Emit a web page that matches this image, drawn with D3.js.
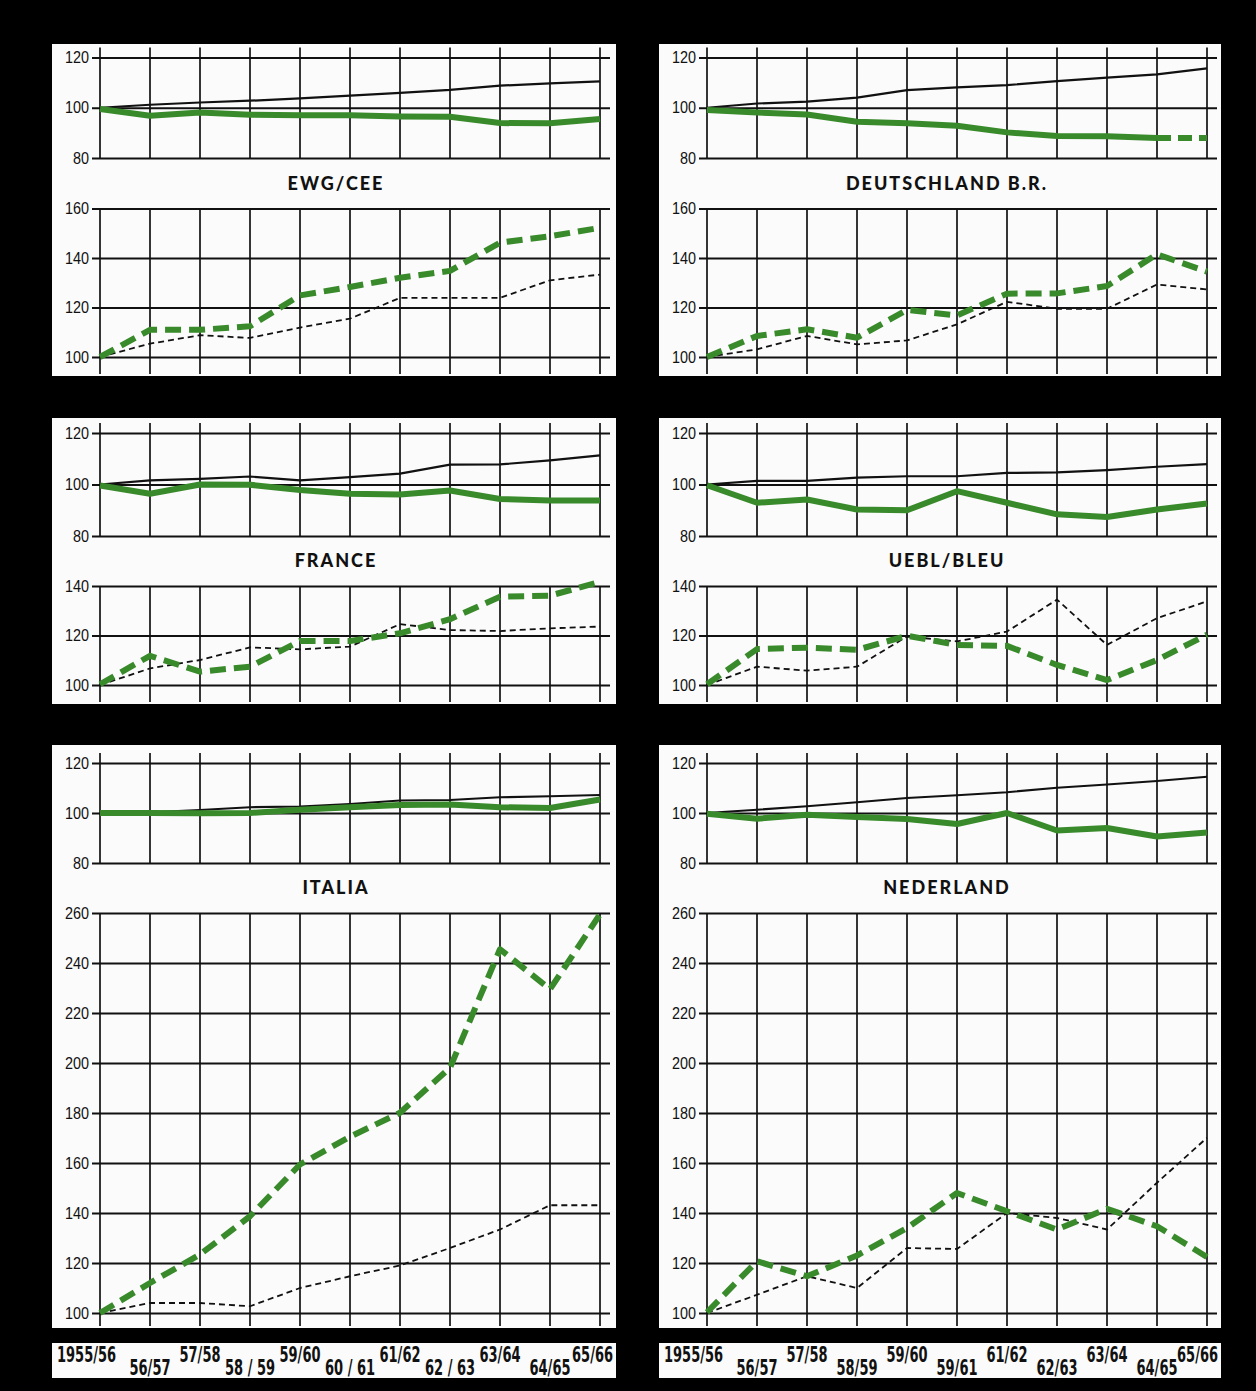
<!DOCTYPE html>
<html>
<head>
<meta charset="utf-8">
<script src="https://cdn.jsdelivr.net/npm/d3@7/dist/d3.min.js"></script>
<style>
  body { margin: 0; background: #000; }
  svg { display: block; }
  .tick text { font-family: "Liberation Sans", "DejaVu Sans", sans-serif; font-size: 16px; fill: #111; }
</style>
</head>
<body>
<script>
// seasons along the bottom
var yearsLeft = ["1955/56", "56/57", "57/58", "58 / 59", "59/60", "60 / 61", "61/62", "62 / 63", "63/64", "64/65", "65/66"];
var yearsRight = ["1955/56", "56/57", "57/58", "58/59", "59/60", "59/61", "61/62", "62/63", "63/64", "64/65", "65/66"];

var topTicks = [80, 100, 120];

// EWG / CEE
var ewgTopBlack = [100, 101.2, 102.1, 102.8, 103.7, 104.8, 105.9, 107.1, 108.8, 109.7, 110.5];
var ewgTopGreen = [99.5, 96.8, 98.1, 97.2, 97, 97, 96.5, 96.4, 93.9, 93.8, 95.5];
var ewgBotGreen = [100, 111, 111, 112.4, 124.9, 128.3, 132, 134.8, 146.2, 148.8, 152.2];
var ewgBotBlack = [100, 105.4, 108.8, 107.7, 111.9, 115.5, 123.9, 123.9, 123.9, 131, 133.3];

// Deutschland B.R.
var deTopBlack = [100, 101.7, 102.4, 104, 107, 108.1, 109, 110.6, 112, 113.3, 115.7];
var deTopGreen = [99.1, 98.1, 97.3, 94.4, 93.8, 92.8, 90.2, 88.8, 88.7, 88, 88];
var deBotGreen = [100, 108.5, 111.2, 107.8, 119, 116.8, 125.6, 125.7, 128.7, 141.5, 134.5];
var deBotBlack = [100, 103.1, 108.5, 105.1, 106.7, 113.2, 122.3, 119.5, 119.5, 129.3, 127.3];

// France
var frTopBlack = [100, 101.6, 102.2, 103.1, 101.6, 102.9, 104.2, 107.7, 107.8, 109.4, 111.3];
var frTopGreen = [99.6, 96.4, 100, 99.9, 97.9, 96.4, 96.1, 97.7, 94.4, 93.8, 93.8];
var frBotGreen = [100.3, 111.8, 105.4, 107.4, 117.8, 117.8, 120.9, 126.6, 135.7, 136.1, 141.7];
var frBotBlack = [100, 106.7, 110.1, 115.2, 114.4, 115.5, 124.6, 122.2, 121.8, 122.9, 123.6];

// UEBL / BLEU
var beTopBlack = [100, 101.4, 101.4, 102.7, 103.2, 103.2, 104.5, 104.7, 105.6, 106.9, 107.9];
var beTopGreen = [99.7, 92.9, 94.2, 90.3, 90, 97.4, 92.9, 88.4, 87.4, 90.3, 92.6];
var beBotGreen = [100.3, 114.5, 115.1, 114.2, 119.9, 116.2, 115.8, 108.1, 102, 110.1, 120.3];
var beBotBlack = [100, 107.4, 105.8, 107.4, 119.6, 117.6, 121.6, 134.5, 116.2, 127, 133.8];

// Italia
var itTopBlack = [100.3, 100.3, 101.2, 102.3, 102.6, 103.6, 105, 105.2, 106.3, 106.7, 107.2];
var itTopGreen = [100, 100, 99.9, 100, 101.3, 102.3, 103.2, 103.4, 102.3, 102, 105.4];
var itBotGreen = [100, 112, 123.4, 138.7, 159.4, 170.5, 180.1, 198.1, 245.5, 229.5, 259.5];
var itBotBlack = [100, 104, 104, 102.7, 110, 114.7, 119, 126, 133.4, 143.1, 143.1];

// Nederland
var nlTopBlack = [100, 101.3, 102.7, 104.3, 106, 107.1, 108.3, 110.1, 111.4, 112.8, 114.5];
var nlTopGreen = [99.7, 97.7, 99.3, 98.4, 97.6, 95.6, 100, 93, 94, 90.6, 92.2];
var nlBotGreen = [100.3, 120.7, 114.7, 123, 134, 148, 140.7, 133.4, 141.7, 134.7, 122.4];
var nlBotBlack = [100, 107.3, 114.7, 110, 126, 125.6, 140, 138, 133.4, 152.1, 170.1];

var GREEN = "#398a2b";

var rows = [
  {box: [44, 376], top120: 57.5, top80: 158, botTop: 208.5, bot100: 357, titleY: 190},
  {box: [418, 704], top120: 433, top80: 536, botTop: 586, bot100: 685, titleY: 567},
  {box: [745, 1328], top120: 763, top80: 863, botTop: 913, bot100: 1313, titleY: 894}
];
var cols = [
  {box: [52, 616], x0: 100, titleX: 336},
  {box: [659, 1221], x0: 707, titleX: 947}
];

var panels = [
  {name: "EWG/CEE", row: 0, col: 0, botMax: 160, tb: ewgTopBlack, tg: ewgTopGreen, bg: ewgBotGreen, bb: ewgBotBlack},
  {name: "DEUTSCHLAND B.R.", row: 0, col: 1, botMax: 160, tb: deTopBlack, tg: deTopGreen, bg: deBotGreen, bb: deBotBlack, dashedTail: true},
  {name: "FRANCE", row: 1, col: 0, botMax: 140, tb: frTopBlack, tg: frTopGreen, bg: frBotGreen, bb: frBotBlack},
  {name: "UEBL/BLEU", row: 1, col: 1, botMax: 140, tb: beTopBlack, tg: beTopGreen, bg: beBotGreen, bb: beBotBlack},
  {name: "ITALIA", row: 2, col: 0, botMax: 260, tb: itTopBlack, tg: itTopGreen, bg: itBotGreen, bb: itBotBlack},
  {name: "NEDERLAND", row: 2, col: 1, botMax: 260, tb: nlTopBlack, tg: nlTopGreen, bg: nlBotGreen, bb: nlBotBlack}
];

var svg = d3.select("body").append("svg")
    .attr("width", 1256)
    .attr("height", 1391);

svg.append("rect").attr("width", 1256).attr("height", 1391).attr("fill", "#000");

function drawChart(g, x, y, ticks, vTop, vBottom) {
    // horizontal grid + labels
    var axis = d3.axisLeft(y).tickValues(ticks).tickSize(-518).tickPadding(3);
    var ga = g.append("g")
        .attr("transform", "translate(" + (x.range()[0] - 8) + ",0)")
        .call(axis);
    ga.select(".domain").remove();
    ga.selectAll(".tick line").attr("stroke", "#111").attr("stroke-width", 1.9);
    // squeeze the numbers a bit like the printed ones
    ga.selectAll(".tick text")
        .attr("transform", "scale(0.9,1)")
        .attr("x", -3 / 0.9);

    // vertical grid
    g.append("g").selectAll("line")
        .data(d3.range(11))
        .enter()
            .append("line")
            .attr("x1", function(d) { return x(d); })
            .attr("x2", function(d) { return x(d); })
            .attr("y1", vTop)
            .attr("y2", vBottom)
            .attr("stroke", "#111")
            .attr("stroke-width", 1.7);
}

function drawLine(g, x, y, data, color, width, dash) {
    var line = d3.line()
        .x(function(d, i) { return x(i); })
        .y(function(d) { return y(d); });
    g.append("path")
        .attr("d", line(data))
        .attr("fill", "none")
        .attr("stroke", color)
        .attr("stroke-width", width)
        .attr("stroke-linejoin", "round")
        .attr("stroke-dasharray", dash || null);
}

panels.forEach(function(p) {
    var r = rows[p.row], c = cols[p.col];
    var g = svg.append("g");

    g.append("rect")
        .attr("x", c.box[0]).attr("y", r.box[0])
        .attr("width", c.box[1] - c.box[0]).attr("height", r.box[1] - r.box[0])
        .attr("fill", "#fbfbfb");

    var x = d3.scaleLinear().domain([0, 10]).range([c.x0, c.x0 + 500]);
    var yTop = d3.scaleLinear().domain([80, 120]).range([r.top80, r.top120]);
    var yBot = d3.scaleLinear().domain([100, p.botMax]).range([r.bot100, r.botTop]);

    drawChart(g, x, yTop, topTicks, r.top120 - 10, r.top80);
    drawChart(g, x, yBot, d3.range(100, p.botMax + 1, 20), r.botTop, r.box[1] - 2);

    // upper chart
    drawLine(g, x, yTop, p.tb, "#111", 2.2);
    if (p.dashedTail) {
        var head = p.tg.slice(0, 10);
        drawLine(g, x, yTop, head, GREEN, 6);
        var tail = d3.line()
            .x(function(d, i) { return x(9 + i); })
            .y(function(d) { return yTop(d); });
        g.append("path")
            .attr("d", tail(p.tg.slice(9)))
            .attr("fill", "none")
            .attr("stroke", GREEN)
            .attr("stroke-width", 6)
            .attr("stroke-dasharray", "14,7");
    } else {
        drawLine(g, x, yTop, p.tg, GREEN, 6);
    }

    // lower chart
    drawLine(g, x, yBot, p.bb, "#111", 1.8, "6,4");
    drawLine(g, x, yBot, p.bg, GREEN, 6, "16,8");

    g.append("text")
        .attr("x", c.titleX)
        .attr("y", r.titleY)
        .attr("text-anchor", "middle")
        .attr("font-family", "Lato, 'Open Sans', sans-serif")
        .attr("font-weight", 900)
        .attr("font-size", 18)
        .attr("letter-spacing", 2)
        .attr("fill", "#111")
        .text(p.name);
});

// season labels, narrowed with a horizontal scale
var sx = 0.62;
cols.forEach(function(c, ci) {
    var labels = ci == 0 ? yearsLeft : yearsRight;
    var x = d3.scaleLinear().domain([0, 10]).range([c.x0, c.x0 + 500]);
    svg.append("rect")
        .attr("x", c.box[0]).attr("y", 1343)
        .attr("width", c.box[1] - c.box[0]).attr("height", 35)
        .attr("fill", "#fbfbfb");
    svg.append("g").selectAll("text")
        .data(labels)
        .enter()
            .append("text")
            .attr("transform", function(d, i) {
                var px = x(i);
                if (i == 0) px = c.box[0] + 5;
                if (i == 10) px = c.box[1] - 3;
                var py = i % 2 == 0 ? 1362 : 1375;
                return "translate(" + px + "," + py + ") scale(" + sx + ",1)";
            })
            .attr("text-anchor", function(d, i) {
                if (i == 0) return "start";
                if (i == 10) return "end";
                return "middle";
            })
            .attr("font-family", "'DejaVu Sans', sans-serif")
            .attr("font-weight", "bold")
            .attr("font-size", 21)
            .attr("fill", "#111")
            .text(function(d) { return d; });
});
</script>
</body>
</html>
